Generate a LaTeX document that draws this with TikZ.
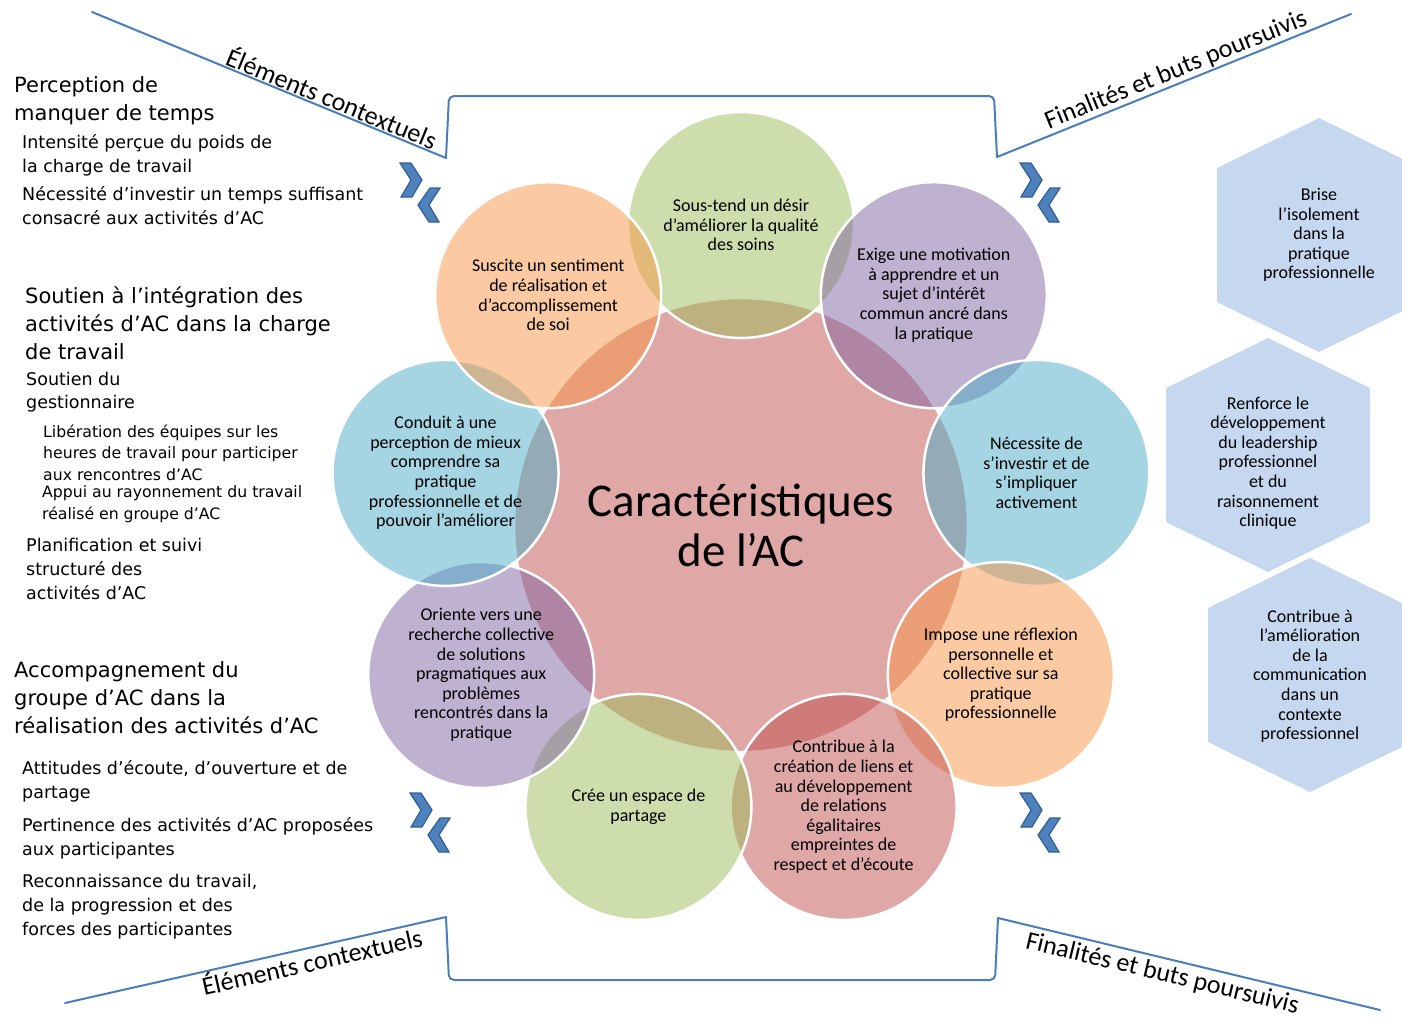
\documentclass[tikz,border=0pt]{standalone}
\usepackage{fontspec}
\setmainfont{Carlito}
\newfontfamily\sidefont{DejaVu Sans}
\definecolor{cRed}{HTML}{C0504D}
\definecolor{cGreen}{HTML}{9BBB59}
\definecolor{cPurple}{HTML}{8064A2}
\definecolor{cBlue}{HTML}{4BACC6}
\definecolor{cOrange}{HTML}{F79646}
\definecolor{cFrame}{HTML}{4A7EBB}
\definecolor{cHex}{HTML}{C6D8EF}
\definecolor{cChev}{HTML}{4F81BD}
\definecolor{cChevEdge}{HTML}{2F5F98}
\tikzset{
  chevpair/.pic={
    \filldraw[chev] (0,0) -- (11,0) -- (22,17) -- (12,34) -- (1,34) -- (11,17) -- cycle;
    \filldraw[chev] (30,25) -- (40,25) -- (29,42) -- (39,59) -- (29,59) -- (18,42) -- cycle;
  }
}
\begin{document}
\begin{tikzpicture}[x=1pt, y=-1pt,
  sat/.style={circle, minimum size=226pt, inner sep=0pt, draw=white, line width=2.5pt,
    fill opacity=0.5, text opacity=1, align=center, font=\fontsize{18}{19.6}\selectfont},
  hexa/.style={fill=cHex},
  hextxt/.style={align=center, inner sep=0pt, font=\fontsize{18}{19.6}\selectfont},
  frame/.style={cFrame, line width=2pt, line cap=round, line join=round},
  lbl/.style={font=\fontsize{26}{30}\selectfont, inner sep=1pt, text=black},
  chev/.style={fill=cChev, draw=cChevEdge, line width=1.2pt},
  lhead/.style={anchor=west, align=left, inner sep=0pt, font=\sidefont\fontsize{21}{28}\selectfont},
  lsub/.style={anchor=west, align=left, inner sep=0pt, font=\sidefont\fontsize{17.5}{24}\selectfont},
  lsubsub/.style={anchor=west, align=left, inner sep=0pt, font=\sidefont\fontsize{15.7}{21.5}\selectfont},
]
  \useasboundingbox (0,0) rectangle (1402,1018);
  % ---- centre ----
  \node[circle, minimum size=454pt, inner sep=0pt, fill=cRed!50, draw=white, line width=2.5pt,
        align=center, font=\fontsize{47}{50}\selectfont] (core) at (741,525) {Caractéristiques\\de l’AC};
  % ---- satellites, clockwise from the top ----
  \foreach \a/\c/\t [count=\i] in {
    -90/cGreen/{Sous-tend un désir\\d’améliorer la qualité\\des soins},
    -50/cPurple/{Exige une motivation\\à apprendre et un\\sujet d’intérêt\\commun ancré dans\\la pratique},
    -10/cBlue/{Nécessite de\\s’investir et de\\s’impliquer\\activement},
    30/cOrange/{Impose une réflexion\\personnelle et\\collective sur sa\\pratique\\professionnelle},
    70/cRed/{Contribue à la\\création de liens et\\au développement\\de relations\\égalitaires\\empreintes de\\respect et d’écoute},
    110/cGreen/{Crée un espace de\\partage},
    150/cPurple/{Oriente vers une\\recherche collective\\de solutions\\pragmatiques aux\\problèmes\\rencontrés dans la\\pratique},
    -170/cBlue/{Conduit à une\\perception de mieux\\comprendre sa\\pratique\\professionnelle et de\\pouvoir l’améliorer},
    -130/cOrange/{Suscite un sentiment\\de réalisation et\\d’accomplissement\\de soi}}
    \node[sat, fill=\c] (sat\i) at ([shift={(\a:300)}]741,525) {\t};
  % ---- frame lines ----
  \coordinate (tlA) at (92,12);   \coordinate (tlB) at (446,158);
  \coordinate (tlC) at (449,96);  \coordinate (trC) at (994,96);
  \coordinate (trB) at (997,157); \coordinate (trA) at (1351,14);
  \coordinate (blA) at (65,1003); \coordinate (blB) at (446,917);
  \coordinate (blC) at (449,980); \coordinate (brC) at (995,980);
  \coordinate (brB) at (998,918); \coordinate (brA) at (1380,1010);
  \draw[frame] (tlA) -- node[lbl, pos=0.665, sloped, above] {Éléments contextuels} (tlB);
  \draw[frame, rounded corners=5pt] (tlB) -- (tlC) -- (trC) -- (trB);
  \draw[frame] (trB) -- node[lbl, pos=0.52, sloped, above] {Finalités et buts poursuivis} (trA);
  \draw[frame] (blA) -- node[lbl, pos=0.64, sloped, below] {Éléments contextuels} (blB);
  \draw[frame, rounded corners=5pt] (blB) -- (blC) -- (brC) -- (brB);
  \draw[frame] (brB) -- node[lbl, pos=0.44, sloped, below, yshift=-3pt] {Finalités et buts poursuivis} (brA);
  % ---- chevrons ----
  \pic at (400,163) {chevpair};
  \pic at (1020,163) {chevpair};
  \pic at (410,793) {chevpair};
  \pic at (1020,793) {chevpair};
  % ---- hexagons (right) ----
  \foreach \n/\x/\y/\ty/\t in {
    brise/1319/235/235/{Brise\\l’isolement\\dans la\\pratique\\professionnelle},
    renf/1268/455/463/{Renforce le\\développement\\du leadership\\professionnel\\et du\\raisonnement\\clinique},
    contr/1310/675/676/{Contribue à\\l’amélioration\\de la\\communication\\dans un\\contexte\\professionnel}} {
    \fill[hexa] (\x,\y-117) -- (\x+102,\y-67) -- (\x+102,\y+67) -- (\x,\y+117)
      -- (\x-102,\y+67) -- (\x-102,\y-67) -- cycle;
    \node[hextxt] (\n) at (\x,\ty) {\t};
  }
  % ---- left texts ----
  \node[lhead] (perc) at (14,101) {Perception de\\manquer de temps};
  \node[lsub] (percA) at (22,155) {Intensité perçue du poids de\\la charge de travail};
  \node[lsub] (percB) at (22,206) {Nécessité d’investir un temps suffisant\\consacré aux activités d’AC};
  \node[lhead] (sout) at (25,323) {Soutien à l’intégration des\\activités d’AC dans la charge\\de travail};
  \node[lsub, font=\sidefont\fontsize{17.5}{23}\selectfont] (soutA) at (26,392.5) {Soutien du\\gestionnaire};
  \node[lsubsub] (soutA1) at (43,452.5) {Libération des équipes sur les\\heures de travail pour participer\\aux rencontres d’AC};
  \node[lsubsub] (soutA2) at (42,504) {Appui au rayonnement du travail\\réalisé en groupe d’AC};
  \node[lsub] (soutB) at (26,569) {Planification et suivi\\structuré des\\activités d’AC};
  \node[lhead] (acc) at (14,697.5) {Accompagnement du\\groupe d’AC dans la\\réalisation des activités d’AC};
  \node[lsub] (accA) at (22,781) {Attitudes d’écoute, d’ouverture et de\\partage};
  \node[lsub] (accB) at (22,838) {Pertinence des activités d’AC proposées\\aux participantes};
  \node[lsub] (accC) at (22,907) {Reconnaissance du travail,\\de la progression et des\\forces des participantes};
\end{tikzpicture}
\end{document}
